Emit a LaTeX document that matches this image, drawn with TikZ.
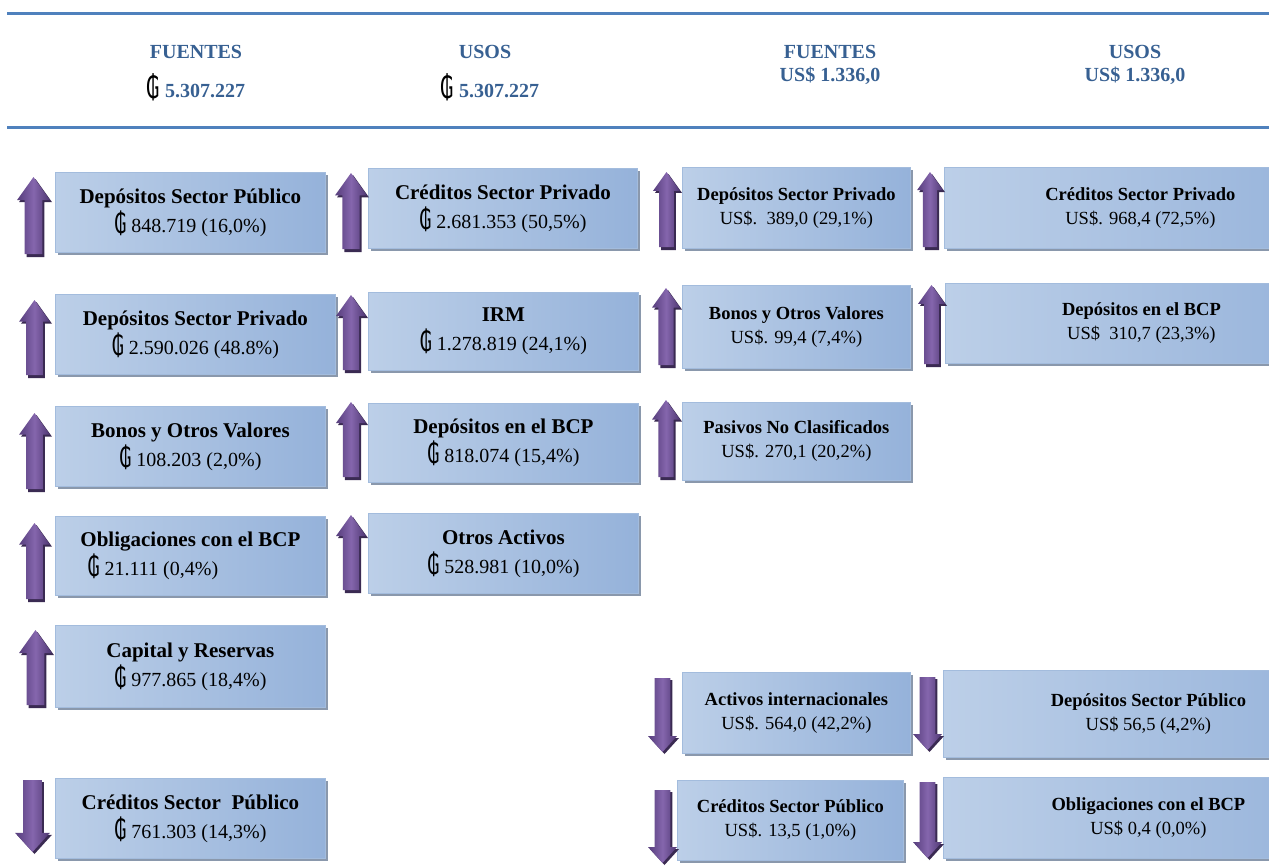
\documentclass[tikz,border=0pt]{standalone}
\usepackage{fontspec}
\usepackage{graphicx}
\setmainfont{Liberation Serif}
\newfontfamily\gfont{DejaVu Sans}
\usetikzlibrary{shadows}
\definecolor{hdrblue}{HTML}{376092}
\definecolor{rulec}{HTML}{4F81BD}
\definecolor{boxL}{HTML}{BCCFE8}
\definecolor{boxM}{HTML}{DEE7F3}
\definecolor{boxR}{HTML}{95B2DA}
\definecolor{boxedge}{HTML}{A3BCDD}
\definecolor{shadowc}{HTML}{8A98AC}
\definecolor{arrL}{HTML}{563D7C}
\definecolor{arrM}{HTML}{8566AD}
\definecolor{arrR}{HTML}{4E3772}
\definecolor{arrD}{HTML}{3A2A52}
\newcommand{\Gs}{{\gfont\raisebox{-1pt}{\scalebox{0.95}[1.4]{₲}}}}
\newcommand{\UpArr}[4]{%
  \pgfmathsetmacro{\ac}{(#1+#2)/2}%
  \pgfmathsetmacro{\hw}{(#2-#1)/2}%
  \pgfmathsetmacro{\sw}{0.27*(#2-#1)}%
  \pgfmathsetmacro{\hh}{0.7*(#2-#1)}%
  \pgfmathsetmacro{\len}{#4-#3}%
  \begin{scope}[shift={(\ac,#3)}]
    \fill[arrD] (2,2) -- (\hw+2,\hh+2) -- (\sw+2,\hh+2) -- (\sw+2,\len) -- (-\sw+2,\len) -- (-\sw+2,\hh+2) -- (-\hw+2,\hh+2) -- cycle;
    \shade[left color=arrL, right color=arrR, middle color=arrM] (0,0) -- (\hw,\hh) -- (\sw,\hh) -- (\sw,\len-3) -- (-\sw,\len-3) -- (-\sw,\hh) -- (-\hw,\hh) -- cycle;
  \end{scope}}
\newcommand{\DownArr}[4]{%
  \pgfmathsetmacro{\ac}{(#1+#2)/2}%
  \pgfmathsetmacro{\hw}{(#2-#1)/2}%
  \pgfmathsetmacro{\sw}{0.27*(#2-#1)}%
  \pgfmathsetmacro{\hh}{0.55*(#2-#1)}%
  \pgfmathsetmacro{\len}{#4-#3}%
  \begin{scope}[shift={(\ac,#3)}]
    \fill[arrD] (-\sw+2,2) -- (\sw+2,2) -- (\sw+2,\len-\hh+2) -- (\hw+2,\len-\hh+2) -- (2,\len+2) -- (-\hw+2,\len-\hh+2) -- (-\sw+2,\len-\hh+2) -- cycle;
    \shade[left color=arrL, right color=arrR, middle color=arrM] (-\sw,0) -- (\sw,0) -- (\sw,\len-\hh) -- (\hw,\len-\hh) -- (0,\len) -- (-\hw,\len-\hh) -- (-\sw,\len-\hh) -- cycle;
  \end{scope}}
\tikzset{
  box/.style={rectangle, draw=boxedge, line width=0.8pt, left color=boxL, middle color=boxM, right color=boxR,
    drop shadow={shadow xshift=3pt, shadow yshift=-3pt, fill=shadowc, opacity=1},
    align=center, inner sep=0pt, anchor=north west, font=\fontsize{20}{29}\selectfont},
  boxs/.style={box, font=\fontsize{18.5}{24}\selectfont},
  hdr/.style={font=\fontsize{20}{24}\selectfont\bfseries, text=hdrblue, inner sep=0pt},
  rulel/.style={draw=rulec, line width=3pt},
}
\newcommand{\ttl}[1]{{\fontsize{21}{29}\selectfont\bfseries #1}}
\newcommand{\tts}[1]{{\fontsize{18.5}{24}\selectfont\bfseries #1}}
\begin{document}
\begin{tikzpicture}[x=1pt,y=-1pt]
\useasboundingbox (0,0) rectangle (1269,865);
% header rules
\draw[rulel] (7,13) -- (1269,13);
\draw[rulel] (7,127) -- (1269,127);
% header texts
\node[hdr] (h1a) at (196,52) {FUENTES};
\node[hdr] (h1b) at (196,87) {{\color{black}\normalfont\fontsize{22}{24}\selectfont\Gs} 5.307.227};
\node[hdr] (h2a) at (485,52) {USOS};
\node[hdr] (h2b) at (490,87) {{\color{black}\normalfont\fontsize{22}{24}\selectfont\Gs} 5.307.227};
\node[hdr] (h3a) at (830,52) {FUENTES};
\node[hdr] (h3b) at (830,76) {US\$ 1.336,0};
\node[hdr] (h4a) at (1135,52) {USOS};
\node[hdr] (h4b) at (1135,76) {US\$ 1.336,0};

% column 1 boxes
\node[box, minimum width=270pt, minimum height=80pt] (c1r1) at (55,172) {\ttl{Depósitos Sector Público}\\ \Gs\ 848.719 (16,0\%)};
\node[box, minimum width=280pt, minimum height=80pt] (c1r2) at (55,294) {\ttl{Depósitos Sector Privado}\\ \Gs\ 2.590.026 (48.8\%)};
\node[box, minimum width=270pt, minimum height=80pt] (c1r3) at (55,406) {\ttl{Bonos y Otros Valores}\\ \Gs\ 108.203 (2,0\%)};
\node[box, minimum width=270pt, minimum height=79pt] (c1r4) at (55,516) {\ttl{Obligaciones con el BCP}\\ \hspace*{-75pt}\Gs\ 21.111 (0,4\%)};
\node[box, minimum width=270pt, minimum height=82pt] (c1r5) at (55,625) {\ttl{Capital y Reservas}\\ \Gs\ 977.865 (18,4\%)};
\node[box, minimum width=270pt, minimum height=80pt] (c1r6) at (55,778) {\ttl{Créditos Sector\ \ Público}\\ \Gs\ 761.303 (14,3\%)};

% column 2 boxes
\node[box, minimum width=269pt, minimum height=80pt] (c2r1) at (368,168) {\ttl{Créditos Sector Privado}\\ \Gs\ 2.681.353 (50,5\%)};
\node[box, minimum width=270pt, minimum height=78pt] (c2r2) at (368,292) {\ttl{IRM}\\ \Gs\ 1.278.819 (24,1\%)};
\node[box, minimum width=270pt, minimum height=79pt] (c2r3) at (368,403) {\ttl{Depósitos en el BCP}\\ \Gs\ 818.074 (15,4\%)};
\node[box, minimum width=270pt, minimum height=80pt] (c2r4) at (368,513) {\ttl{Otros Activos}\\ \Gs\ 528.981 (10,0\%)};

% column 3 boxes
\node[boxs, minimum width=228pt, minimum height=81pt] (c3r1) at (682,167) {\tts{Depósitos Sector Privado}\\ US\$.\ \ 389,0 (29,1\%)};
\node[boxs, minimum width=228pt, minimum height=83pt] (c3r2) at (682,285) {\tts{Bonos y Otros Valores}\\ US\$. 99,4 (7,4\%)};
\node[boxs, minimum width=228pt, minimum height=78pt] (c3r3) at (682,402) {\tts{Pasivos No Clasificados}\\ US\$. 270,1 (20,2\%)};
\node[boxs, minimum width=228pt, minimum height=81pt] (c3d1) at (682,672) {\tts{Activos internacionales}\\ US\$. 564,0 (42,2\%)};
\node[boxs, minimum width=226pt, minimum height=80pt] (c3d2) at (677,780) {\tts{Créditos Sector Público}\\ US\$. 13,5 (1,0\%)};

% column 4 boxes (cut by the right edge)
\node[boxs, minimum width=392pt, minimum height=81pt] (c4r1) at (944,167) {\tts{Créditos Sector Privado}\\ US\$. 968,4 (72,5\%)};
\node[boxs, minimum width=392pt, minimum height=80pt] (c4r2) at (945,283) {\tts{Depósitos en el BCP}\\ US\$\ \ 310,7 (23,3\%)};
\node[boxs, minimum width=410pt, minimum height=87pt] (c4d1) at (943,670) {\tts{Depósitos Sector Público}\\ US\$ 56,5 (4,2\%)};
\node[boxs, minimum width=410pt, minimum height=81pt] (c4d2) at (943,777) {\tts{Obligaciones con el BCP}\\ US\$ 0,4 (0,0\%)};

% arrows column 1
\UpArr{17}{50}{177}{257}
\UpArr{19}{50}{300}{378}
\UpArr{19}{50}{413}{492}
\UpArr{19}{50}{523}{602}
\UpArr{19}{52}{630}{708}
\DownArr{15}{50}{780}{852}
% arrows column 2
\UpArr{335}{367}{173}{252}
\UpArr{336}{366}{295}{373}
\UpArr{336}{366}{402}{480}
\UpArr{336}{366}{515}{593}
% arrows column 3
\UpArr{653}{680}{172}{250}
\UpArr{652}{680}{288}{368}
\UpArr{652}{680}{400}{480}
\DownArr{648}{677}{678}{752}
\DownArr{648}{677}{790}{863}
% arrows column 4
\UpArr{917}{943}{172}{250}
\UpArr{918}{945}{285}{367}
\DownArr{913}{942}{677}{750}
\DownArr{913}{942}{782}{858}
\end{tikzpicture}
\end{document}
